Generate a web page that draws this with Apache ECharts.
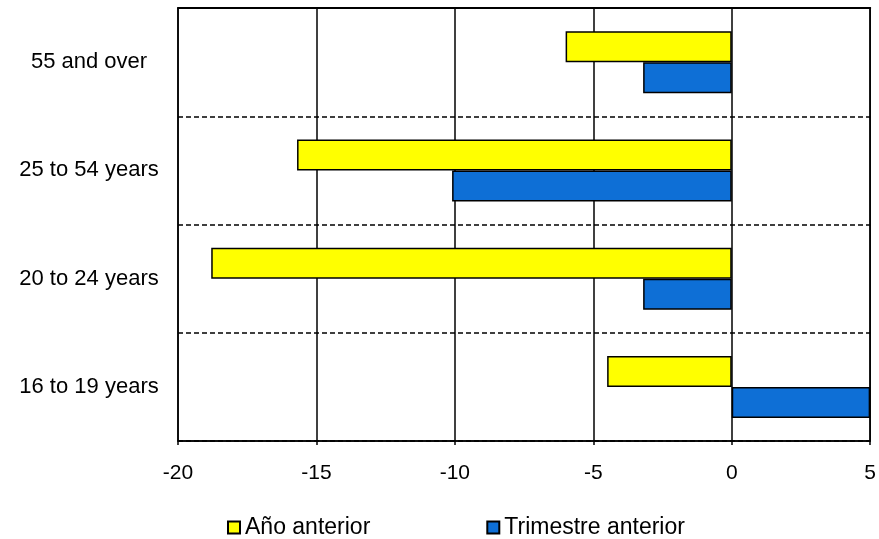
<!DOCTYPE html>
<html>
<head>
<meta charset="utf-8">
<script src="https://cdn.jsdelivr.net/npm/echarts@6/dist/echarts.min.js"></script>
<style>html,body{margin:0;padding:0;background:#fff;}#c{width:879px;height:539px;}</style>
</head>
<body>
<div id="c"></div>
<script>
const categories = ['55 and over', '25 to 54 years', '20 to 24 years', '16 to 19 years'];
const anoAnterior = [-6.0, -15.7, -18.8, -4.5];
const trimestreAnterior = [-3.2, -10.1, -3.2, 5.0];
const seriesNames = ['Año anterior', 'Trimestre anterior'];

const chart = echarts.init(document.getElementById('c'), null, {renderer: 'canvas'});
const font = "'Liberation Sans', Arial, sans-serif";
chart.setOption({
  animation: false,
  backgroundColor: '#fff',
  textStyle: {fontFamily: font, color: '#000'},
  grid: {left: 178, right: 8, top: 8, bottom: 98, show: true, borderColor: '#000', borderWidth: 1.5, containLabel: false},
  legend: {
    data: seriesNames,
    left: 227, top: 516, padding: 0,
    itemWidth: 12, itemHeight: 12, itemGap: 116,
    icon: 'rect',
    textStyle: {fontFamily: font, fontSize: 23, color: '#000'}
  },
  xAxis: [{
    type: 'value', min: -20, max: 5, interval: 5,
    axisLine: {show: true, lineStyle: {color: '#000', width: 1.5}},
    axisTick: {show: true, length: 4, lineStyle: {color: '#000', width: 1.5}},
    axisLabel: {fontFamily: font, fontSize: 21, color: '#000', margin: 22},
    splitLine: {show: true, lineStyle: {color: '#000', width: 1.5}}
  }, {
    type: 'value', min: -20, max: 5, interval: 5, position: 'top',
    axisLine: {show: true, lineStyle: {color: '#000', width: 2}},
    axisTick: {show: false}, axisLabel: {show: false}, splitLine: {show: false}
  }],
  yAxis: {
    type: 'category', data: categories, inverse: true,
    axisLine: {show: false}, axisTick: {show: false},
    axisLabel: {fontFamily: font, fontSize: 22, color: '#000', align: 'center', margin: 89},
    splitLine: {show: true, lineStyle: {color: '#000', width: 1.5, type: [5, 3]}}
  },
  series: [
    {name: seriesNames[0], type: 'bar', data: anoAnterior, barWidth: 31, barGap: '0%',
     itemStyle: {color: '#FFFF00', borderColor: '#000', borderWidth: 1.5}},
    {name: seriesNames[1], type: 'bar', data: trimestreAnterior, barWidth: 31, barGap: '0%',
     itemStyle: {color: '#0E6FD6', borderColor: '#000', borderWidth: 1.5}}
  ]
});
</script>
</body>
</html>
